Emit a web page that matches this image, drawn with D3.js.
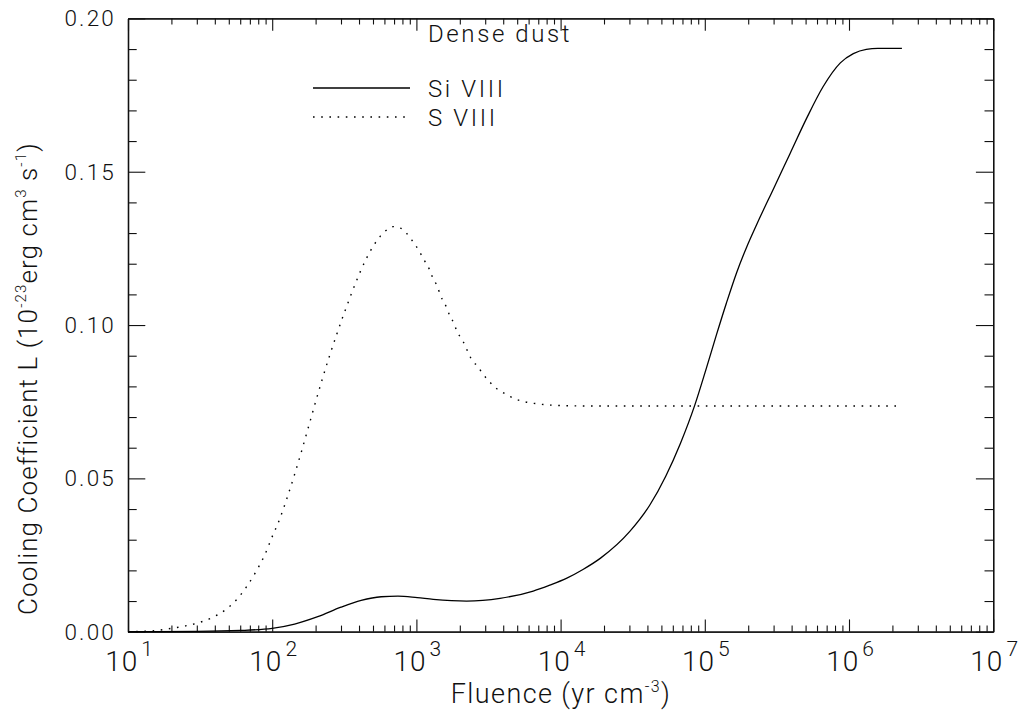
<!DOCTYPE html>
<html>
<head>
<meta charset="utf-8">
<script src="https://cdn.jsdelivr.net/npm/d3@7"></script>
<style>
  html, body { margin: 0; padding: 0; background: #fff; }
  svg { display: block; }
  text { font-family: Roboto, "DejaVu Sans", sans-serif; font-weight: 300; fill: #111; }
</style>
</head>
<body>
<svg id="chart" width="1020" height="713"></svg>
<script>
// ---------------- data ----------------
const siFluence = [10, 30, 60, 100, 143, 207, 300, 414, 570, 745, 1014, 1309, 2228, 3802, 6457, 8414,
  10965, 14289, 18923, 30200, 41687, 53703, 67608, 85114, 102329, 120226, 141254, 165959, 194984,
  229087, 301995, 389045, 512861, 660693, 870964, 1071519, 1318257, 1584893, 2328091];
const siValues = [0, 0.0001, 0.0004, 0.0011, 0.0025, 0.0049, 0.0080, 0.0102, 0.0114, 0.0116, 0.0111, 0.01056,
  0.0100, 0.01088, 0.01327, 0.0152, 0.0174, 0.0203, 0.0240, 0.0327, 0.0414, 0.0508, 0.0613, 0.0738,
  0.0858, 0.0967, 0.1072, 0.1170, 0.1254, 0.1328, 0.1448, 0.1558, 0.1678, 0.1777, 0.1855, 0.1885,
  0.1899, 0.1902, 0.1902];

const sFluence = [10, 15.1, 20, 25.1, 30.2, 38, 47.9, 57.5, 67.6, 77.6, 89.1, 100, 112.2, 125.9, 141.3,
  158.5, 177.8, 199.5, 223.9, 251.2, 281.8, 316.2, 354.8, 398.1, 446.7, 501.2, 562.3, 631.0, 691.8,
  776.2, 851.1, 926.8, 1000, 1072, 1148, 1230, 1288, 1380, 1445, 1514, 1622, 1698, 1820, 1905, 2042,
  2188, 2291, 2455, 2692, 2884, 3162, 3467, 3890, 4365, 4898, 5623, 6457, 8511, 10965, 18620, 2328091];
const sValues = [0, 0.0003, 0.0011, 0.0019, 0.0028, 0.0045, 0.0073, 0.0108, 0.0152, 0.0198, 0.0252, 0.0310,
  0.0365, 0.0432, 0.0505, 0.0583, 0.0665, 0.0748, 0.0828, 0.0903, 0.0973, 0.1040, 0.1103, 0.1162,
  0.1214, 0.1257, 0.1290, 0.1312, 0.1321, 0.1316, 0.1300, 0.1278, 0.1256, 0.1232, 0.1207, 0.1182,
  0.1158, 0.1131, 0.1107, 0.1083, 0.1057, 0.1032, 0.1006, 0.0981, 0.0957, 0.0932, 0.0908, 0.0884,
  0.0862, 0.0841, 0.0819, 0.0799, 0.0783, 0.0769, 0.0758, 0.0750, 0.0745, 0.0739, 0.0737, 0.0736, 0.0736];

const xMajorExponents = [1, 2, 3, 4, 5, 6, 7];
const yMajorTicks = [0.00, 0.05, 0.10, 0.15, 0.20];
const legendTitle = "Dense dust";
const seriesNames = ["Si VIII", "S VIII"];

// ---------------- layout ----------------
const svg = d3.select("#chart");
const L = 128, R = 993.2, T = 18.4, B = 631.7;
const x = d3.scaleLog().domain([1e1, 1e7]).range([L, R]);
const y = d3.scaleLinear().domain([0, 0.2]).range([B, T]);

const xMajor = xMajorExponents.map(e => Math.pow(10, e));
const xMinor = [];
for (let e = 1; e < 7; e++) for (let m = 2; m <= 9; m++) xMinor.push(m * Math.pow(10, e));
const yMinor = d3.range(0, 21).map(i => i / 100).filter(v => Math.round(v * 100) % 5 !== 0);

const axisStroke = "#111";
function styleAxis(g) {
  g.selectAll("path.domain").attr("stroke", axisStroke).attr("stroke-width", 1.3);
  g.selectAll(".tick line").attr("stroke", axisStroke).attr("stroke-width", 1.1);
  g.selectAll(".tick text").remove();
}

// bottom axis
svg.append("g").attr("transform", `translate(0,${B})`)
  .call(d3.axisBottom(x).tickValues(xMajor).tickSize(-12.3).tickSizeOuter(0).tickFormat(""))
  .call(styleAxis);
svg.append("g").attr("transform", `translate(0,${B})`)
  .call(d3.axisBottom(x).tickValues(xMinor).tickSize(-6.1).tickSizeOuter(0).tickFormat(""))
  .call(styleAxis);
// top axis
svg.append("g").attr("transform", `translate(0,${T})`)
  .call(d3.axisTop(x).tickValues(xMajor).tickSize(-12.3).tickSizeOuter(0).tickFormat(""))
  .call(styleAxis);
svg.append("g").attr("transform", `translate(0,${T})`)
  .call(d3.axisTop(x).tickValues(xMinor).tickSize(-6.1).tickSizeOuter(0).tickFormat(""))
  .call(styleAxis);
// left axis
svg.append("g").attr("transform", `translate(${L},0)`)
  .call(d3.axisLeft(y).tickValues(yMajorTicks).tickSize(-17.3).tickSizeOuter(0).tickFormat(""))
  .call(styleAxis);
svg.append("g").attr("transform", `translate(${L},0)`)
  .call(d3.axisLeft(y).tickValues(yMinor).tickSize(-8.7).tickSizeOuter(0).tickFormat(""))
  .call(styleAxis);
// right axis
svg.append("g").attr("transform", `translate(${R},0)`)
  .call(d3.axisRight(y).tickValues(yMajorTicks).tickSize(-17.3).tickSizeOuter(0).tickFormat(""))
  .call(styleAxis);
svg.append("g").attr("transform", `translate(${R},0)`)
  .call(d3.axisRight(y).tickValues(yMinor).tickSize(-8.7).tickSizeOuter(0).tickFormat(""))
  .call(styleAxis);

// y tick labels
const fmt = d3.format(".2f");
svg.append("g").selectAll("text").data(yMajorTicks).join("text")
  .attr("x", L - 12).attr("y", d => y(d) + 8)
  .attr("text-anchor", "end")
  .attr("font-size", 22.5).attr("letter-spacing", 2.2)
  .text(d => fmt(d));

// x tick labels with superscripts
const xl = svg.append("g").selectAll("text").data(xMajorExponents).join("text")
  .attr("x", d => x(Math.pow(10, d)) + 1).attr("y", 671)
  .attr("text-anchor", "middle")
  .attr("font-size", 28);
xl.append("tspan").text("10").attr("letter-spacing", 1);
xl.append("tspan").attr("dx", 3).attr("dy", -15).attr("font-size", 21).text(d => d);

// x title
const xt = svg.append("text").attr("x", 561).attr("y", 703)
  .attr("text-anchor", "middle").attr("font-size", 27).attr("letter-spacing", 1.4);
xt.append("tspan").text("Fluence (yr cm");
xt.append("tspan").attr("dy", -11).attr("font-size", 16).text("-3");
xt.append("tspan").attr("dy", 11).text(")");

// y title
const yt = svg.append("text")
  .attr("transform", `translate(37,615) rotate(-90)`)
  .attr("text-anchor", "start").attr("font-size", 26).attr("letter-spacing", 1.1);
yt.append("tspan").text("Cooling Coefficient L (10");
yt.append("tspan").attr("dy", -11).attr("font-size", 15).text("-23");
yt.append("tspan").attr("dy", 11).text("erg cm");
yt.append("tspan").attr("dy", -11).attr("font-size", 15).text("3");
yt.append("tspan").attr("dy", 11).text(" s");
yt.append("tspan").attr("dy", -11).attr("font-size", 15).text("-1");
yt.append("tspan").attr("dy", 11).text(")");

// curves
const line = d3.line()
  .x(d => x(d[0])).y(d => y(d[1]))
  .curve(d3.curveMonotoneX);
const siData = siFluence.map((f, i) => [f, siValues[i]]);
const sData = sFluence.map((f, i) => [f, sValues[i]]);

svg.append("path").datum(siData)
  .attr("d", line).attr("fill", "none")
  .attr("stroke", "#000").attr("stroke-width", 1.3);
svg.append("path").datum(sData)
  .attr("d", line).attr("fill", "none")
  .attr("stroke", "#000").attr("stroke-width", 1.4)
  .attr("stroke-dasharray", "1.6,6.6");

// legend
svg.append("text").attr("x", 428).attr("y", 42)
  .attr("font-size", 24).attr("letter-spacing", 2.6).text(legendTitle);
const legendRows = [
  { name: seriesNames[0], yPos: 88, dash: null },
  { name: seriesNames[1], yPos: 117, dash: "1.6,6.6" }
];
legendRows.forEach(r => {
  svg.append("line").attr("x1", 313).attr("x2", 410).attr("y1", r.yPos).attr("y2", r.yPos)
    .attr("stroke", "#000").attr("stroke-width", r.dash ? 1.4 : 1.3)
    .attr("stroke-dasharray", r.dash);
  svg.append("text").attr("x", 428).attr("y", r.yPos + 9)
    .attr("font-size", 24).attr("letter-spacing", 2.6).text(r.name);
});
</script>
</body>
</html>
